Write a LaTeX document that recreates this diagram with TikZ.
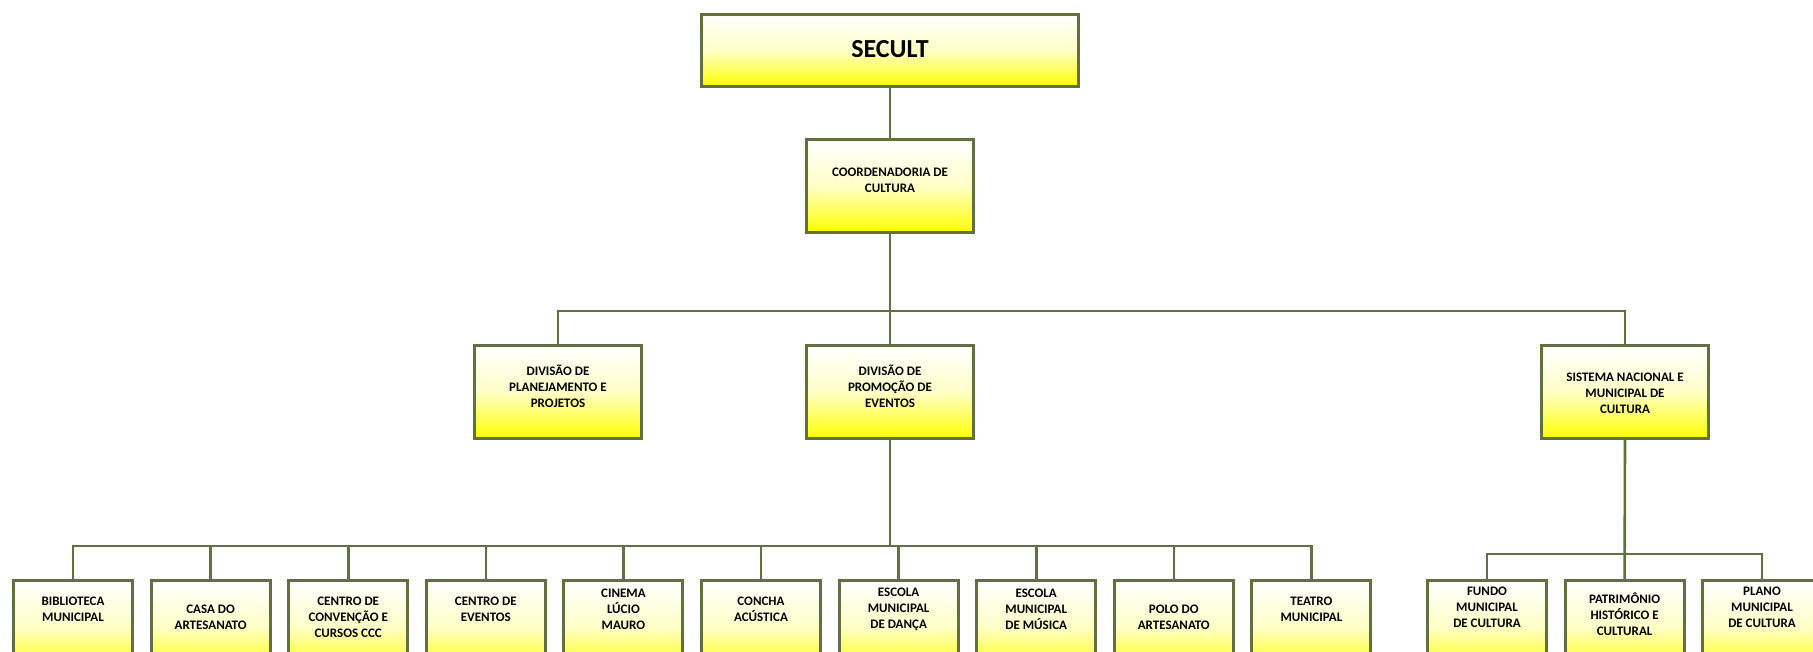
\documentclass[tikz,border=0pt]{standalone}
\usepackage{fontspec}
\setmainfont{Carlito}
\definecolor{olivebd}{RGB}{96,112,64}
\tikzset{
  orgbox/.style={draw=olivebd, line width=3pt, rectangle, top color=white, bottom color=yellow, middle color=yellow!22, inner sep=0pt},
  bigbox/.style={orgbox, minimum width=377pt, minimum height=72pt},
  midbox/.style={orgbox, minimum width=167pt, minimum height=93pt},
  lowbox/.style={orgbox, minimum width=119pt, minimum height=93pt},
  txt/.style={font=\fontsize{13}{16}\selectfont\bfseries, align=center, inner sep=0pt},
  bigtxt/.style={font=\fontsize{26}{30}\selectfont\bfseries, align=center, inner sep=0pt},
  conn/.style={draw=olivebd, line width=2.6pt}
}
\begin{document}
\begin{tikzpicture}[x=1pt,y=-1pt]
\useasboundingbox (0,0) rectangle (1813,651);
\clip (0,0) rectangle (1813,651);
% top levels
\node[bigbox] (secult) at (890,50.5) {};
\node[bigtxt] (secultT) at (890,49) {SECULT};
\node[midbox] (coord) at (890,186) {};
\node[txt] (coordT) at (890,180) {COORDENADORIA DE\\CULTURA};
\node[midbox] (plan) at (558,392) {};
\node[txt] (planT) at (558,386) {DIVISÃO DE\\PLANEJAMENTO E\\PROJETOS};
\node[midbox] (prom) at (890,392) {};
\node[txt] (promT) at (890,386) {DIVISÃO DE\\PROMOÇÃO DE\\EVENTOS};
\node[midbox] (sist) at (1625,392) {};
\node[txt] (sistT) at (1625,393) {SISTEMA NACIONAL E\\MUNICIPAL DE\\CULTURA};
% bottom row left
\node[lowbox] (bib) at (73,627) {};
\node[txt] at (73,609) {BIBLIOTECA\\MUNICIPAL};
\node[lowbox] (casa) at (210.6,627) {};
\node[txt] at (210.6,617) {CASA DO\\ARTESANATO};
\node[lowbox] (conv) at (348.2,627) {};
\node[txt] at (348.2,617) {CENTRO DE\\CONVENÇÃO E\\CURSOS CCC};
\node[lowbox] (cev) at (485.8,627) {};
\node[txt] at (485.8,609) {CENTRO DE\\EVENTOS};
\node[lowbox] (cin) at (623.4,627) {};
\node[txt] at (623.4,609) {CINEMA\\LÚCIO\\MAURO};
\node[lowbox] (conc) at (761,627) {};
\node[txt] at (761,609) {CONCHA\\ACÚSTICA};
\node[lowbox] (danc) at (898.6,627) {};
\node[txt] at (898.6,609) {ESCOLA\\MUNICIPAL\\DE DANÇA};
\node[lowbox] (mus) at (1036.2,627) {};
\node[txt] at (1036.2,609) {ESCOLA\\MUNICIPAL\\DE MÚSICA};
\node[lowbox] (polo) at (1173.8,627) {};
\node[txt] at (1173.8,617) {POLO DO\\ARTESANATO};
\node[lowbox] (teat) at (1311.4,627) {};
\node[txt] at (1311.4,609) {TEATRO\\MUNICIPAL};
% bottom row right
\node[lowbox] (fund) at (1487,627) {};
\node[txt] at (1487,607) {FUNDO\\MUNICIPAL\\DE CULTURA};
\node[lowbox] (patr) at (1624.6,627) {};
\node[txt] at (1624.6,614) {PATRIMÔNIO\\HISTÓRICO E\\CULTURAL};
\node[lowbox] (plano) at (1762,627) {};
\node[txt] at (1762,607) {PLANO\\MUNICIPAL\\DE CULTURA};
% bus coordinates
\coordinate (busT) at (0,311);
\coordinate (busL) at (0,546);
\coordinate (busR) at (0,554);
% connectors
\draw[conn] (secult.south) -- (coord.north);
\draw[conn] (coord.south) -- (coord.south|-busT);
\draw[conn] (plan.north) -- (plan.north|-busT) -- (sist.north|-busT) -- (sist.north);
\draw[conn] (prom.north) -- (prom.north|-busT);
\draw[conn] (prom.south) -- (prom.south|-busL);
\draw[conn] (bib.north) -- (bib.north|-busL) -- (teat.north|-busL) -- (teat.north);
\foreach \n in {casa,conv,cev,cin,conc,danc,mus,polo}
  \draw[conn] (\n.north) -- (\n.north|-busL);
\draw[conn] (sist.south) -- (patr.north);
\draw[conn] (fund.north) -- (fund.north|-busR) -- (plano.north|-busR) -- (plano.north);
\end{tikzpicture}
\end{document}
